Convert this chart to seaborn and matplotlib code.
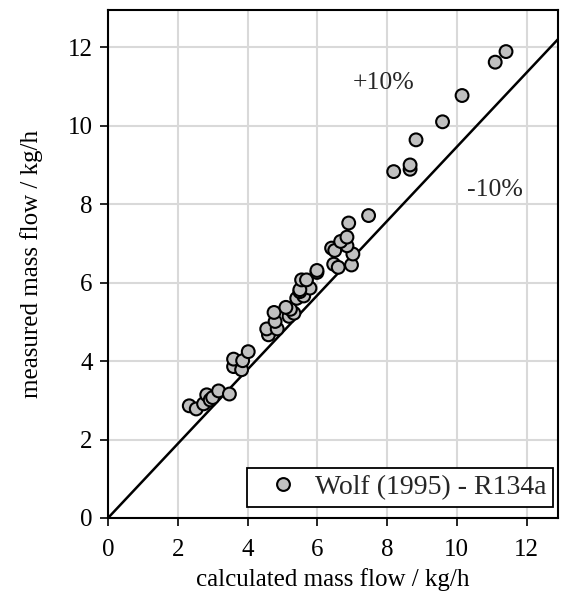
import matplotlib
matplotlib.use("Agg")
import matplotlib.pyplot as plt
import seaborn as sns
import pandas as pd

calc_flow = [2.33, 2.53, 2.74, 2.83, 2.93, 3.00, 3.17, 3.48, 3.60, 3.83,
             3.60, 3.86, 4.02, 4.60, 4.55, 4.85, 4.79, 4.76, 5.19, 5.33,
             5.23, 5.10, 5.41, 5.61, 5.50, 5.79, 5.50, 5.55, 5.69, 5.99,
             5.99, 6.47, 6.60, 6.98, 7.02, 6.41, 6.50, 6.85, 6.67, 6.85,
             6.90, 7.47, 8.19, 8.66, 8.66, 8.83, 9.59, 10.15, 11.10, 11.41]
meas_flow = [2.86, 2.78, 2.91, 3.14, 3.01, 3.07, 3.24, 3.16, 3.86, 3.78,
             4.05, 4.01, 4.24, 4.67, 4.82, 4.82, 5.01, 5.24, 5.14, 5.22,
             5.32, 5.37, 5.60, 5.66, 5.77, 5.86, 5.82, 6.07, 6.07, 6.26,
             6.31, 6.47, 6.39, 6.45, 6.73, 6.88, 6.82, 6.94, 7.05, 7.16,
             7.52, 7.71, 8.83, 8.89, 9.00, 9.64, 10.10, 10.77, 11.62, 11.89]
series_name = "Wolf (1995) - R134a"
ref_line_x = [0, 13]
ref_line_y = [0, 12.3]
ticks = [0, 2, 4, 6, 8, 10, 12]

df = pd.DataFrame({"calc": calc_flow, "meas": meas_flow,
                   "series": [series_name] * len(calc_flow)})

sns.set_theme(style="whitegrid")
plt.rcParams["font.family"] = ["Liberation Serif", "DejaVu Serif"]

fig = plt.figure(figsize=(5.61, 5.93), dpi=100)
ax = fig.add_axes([108 / 561, 1 - 518 / 593, 450 / 561, 508 / 593])

ax.plot(ref_line_x, ref_line_y, color="black", lw=1.8, zorder=2)
sns.scatterplot(data=df, x="calc", y="meas", hue="series",
                palette=["#c0c0c0"], s=85, edgecolor="black",
                linewidth=1.5, ax=ax, zorder=3)

ax.set_xlim(0, 12.9)
ax.set_ylim(0, 12.95)
ax.set_xticks(ticks)
ax.set_yticks(ticks)
ax.grid(True, color="#d9d9d9", lw=1.5)
ax.set_axisbelow(True)
for sp in ax.spines.values():
    sp.set_color("black")
    sp.set_linewidth(1.5)
ax.tick_params(axis="both", which="major", direction="out", length=6,
               width=1.2, color="black", labelsize=18, labelcolor="black",
               left=True, bottom=True)
ax.tick_params(axis="x", pad=9)
ax.tick_params(axis="y", pad=5)
ax.set_xlabel("calculated mass flow / kg/h", fontsize=18, color="black",
              labelpad=5)
ax.set_ylabel("measured mass flow / kg/h", fontsize=18, color="black",
              labelpad=18)

ax.text(7.9, 11.09, "+10%", fontsize=18.5, ha="center", va="center")
ax.text(11.1, 8.37, "-10%", fontsize=18.5, ha="center", va="center")

leg = ax.legend(loc="lower right",
                bbox_to_anchor=((553 - 108) / 450, (518 - 507) / 508),
                fontsize=20, frameon=True, fancybox=False, handletextpad=0.1,
                borderpad=0.25, markerscale=1.0, handlelength=2.1,
                borderaxespad=0)
leg.get_frame().set_edgecolor("black")
leg.get_frame().set_linewidth(1.3)
leg.get_frame().set_alpha(1)

fig.savefig("out.png", dpi=100)
